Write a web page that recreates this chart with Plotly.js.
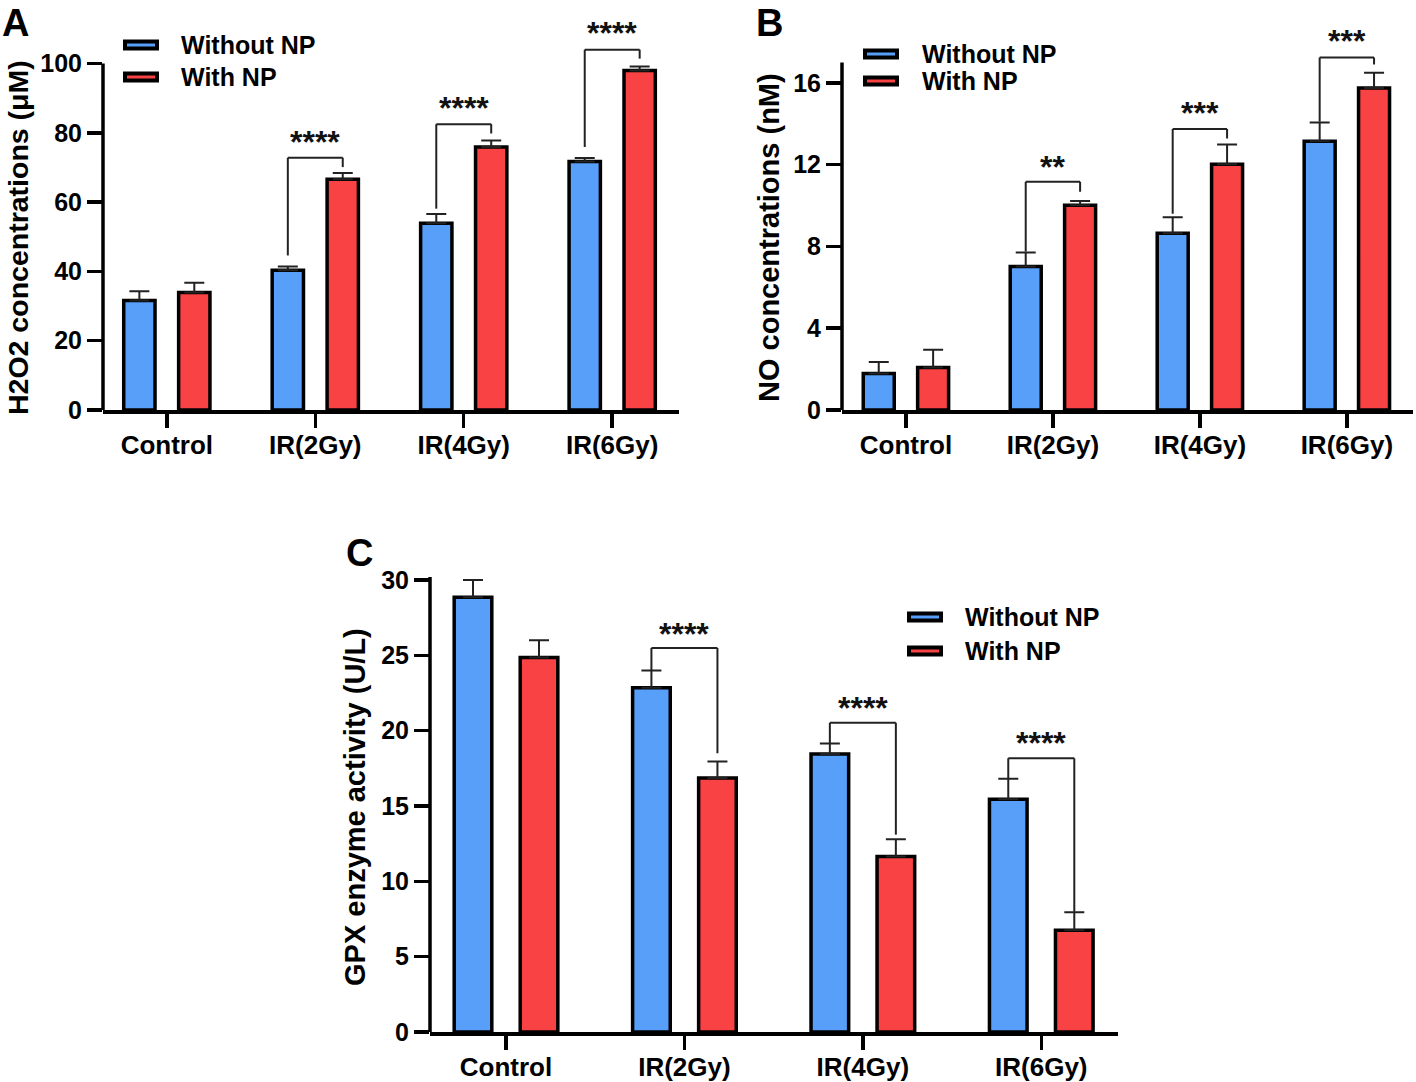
<!DOCTYPE html>
<html>
<head>
<meta charset="utf-8">
<script src="https://cdn.plot.ly/plotly-3.0.1.min.js"></script>
<style>
html, body { margin: 0; padding: 0; background: #ffffff; }
#chart { width: 1416px; height: 1082px; }
</style>
</head>
<body>
<div id="chart"></div>
<script>
// ---------------- DATA ----------------
const categories = ['Control', 'IR(2Gy)', 'IR(4Gy)', 'IR(6Gy)'];
const seriesNames = ['Without NP', 'With NP'];

// Panel A: H2O2 concentrations (uM)
const h2o2Without    = [31.6, 40.3, 53.9, 71.7];
const h2o2WithoutErr = [2.7, 1.1, 2.7, 1.0];
const h2o2With       = [33.9, 66.6, 75.9, 98.0];
const h2o2WithErr    = [2.8, 1.8, 1.9, 1.1];
const h2o2Ticks      = [0, 20, 40, 60, 80, 100];
// significance brackets (categories 1..3)
const h2o2SigLabels  = ['****', '****', '****'];
const h2o2SigTop     = [72.8, 82.5, 104.0];
const h2o2SigLeft    = [44.6, 58.1, 75.9];
const h2o2SigRight   = [70.1, 79.8, 101.4];
const h2o2SigText    = [78.6, 88.4, 110.0];

// Panel B: NO concentrations (nM)
const noWithout    = [1.78, 7.02, 8.65, 13.15];
const noWithoutErr = [0.57, 0.68, 0.78, 0.92];
const noWith       = [2.08, 10.02, 12.02, 15.75];
const noWithErr    = [0.87, 0.2, 0.97, 0.75];
const noTicks      = [0, 4, 8, 12, 16];
const noSigLabels  = ['**', '***', '***'];
const noSigTop     = [11.17, 13.75, 17.24];
const noSigLeft    = [7.75, 9.6, 14.1];
const noSigRight   = [10.68, 13.28, 16.9];
const noSigText    = [12.1, 14.75, 18.25];

// Panel C: GPX enzyme activity (U/L)
const gpxWithout    = [28.85, 22.85, 18.45, 15.45];
const gpxWithoutErr = [1.15, 1.15, 0.7, 1.35];
const gpxWith       = [24.85, 16.85, 11.65, 6.75];
const gpxWithErr    = [1.15, 1.1, 1.15, 1.2];
const gpxTicks      = [0, 5, 10, 15, 20, 25, 30];
const gpxSigLabels  = ['****', '****', '****'];
const gpxSigTop     = [25.48, 20.52, 18.17];
const gpxSigLeft    = [24.0, 19.17, 16.79];
const gpxSigRight   = [18.5, 13.1, 7.98];
const gpxSigText    = [26.7, 21.8, 19.45];

// ---------------- STYLE / LAYOUT HELPERS ----------------
const W = 1416, H = 1082;
const BLUE = '#579ff8';
const RED = '#f84244';
const FONT = 'Liberation Sans, Arial, Helvetica, sans-serif';
const BARGAP = 0.26, BARGROUPGAP = 0.43;
const LEG = (1 - BARGAP) / 4; // bar centre offset from category centre

// panel geometry in pixels
const panels = [
  {id: '',  xL: 103, xR: 679,  zeroPx: 410,  ppu: 3.465,  rmax: 114,  axisTop: 100,  xr: [-0.43, 3.45],
   title: 'H2O2 concentrations (μM)', tx: 18, ty: 238, tsize: 28.5,
   ticks: h2o2Ticks,
   w: h2o2Without, we: h2o2WithoutErr, r: h2o2With, re: h2o2WithErr,
   sl: h2o2SigLabels, st: h2o2SigTop, sL: h2o2SigLeft, sR: h2o2SigRight, sT: h2o2SigText},
  {id: '2', xL: 842, xR: 1413, zeroPx: 410,  ppu: 20.44,  rmax: 19.3, axisTop: 17.0, xr: [-0.435, 3.45],
   title: 'NO concentrations (nM)', tx: 769, ty: 238, tsize: 29,
   ticks: noTicks,
   w: noWithout, we: noWithoutErr, r: noWith, re: noWithErr,
   sl: noSigLabels, st: noSigTop, sL: noSigLeft, sR: noSigRight, sT: noSigText},
  {id: '3', xL: 430, xR: 1118, zeroPx: 1032, ppu: 15.067, rmax: 30.3, axisTop: 30.2, xr: [-0.426, 3.43],
   title: 'GPX enzyme activity (U/L)', tx: 355, ty: 807, tsize: 29,
   ticks: gpxTicks,
   w: gpxWithout, we: gpxWithoutErr, r: gpxWith, re: gpxWithErr,
   sl: gpxSigLabels, st: gpxSigTop, sL: gpxSigLeft, sR: gpxSigRight, sT: gpxSigText}
];

const traces = [];
const shapes = [];
const annotations = [];
const layout = {
  width: W, height: H,
  margin: {l: 0, r: 0, t: 0, b: 0, pad: 0},
  paper_bgcolor: '#ffffff', plot_bgcolor: 'rgba(0,0,0,0)',
  showlegend: false,
  barmode: 'group', bargap: BARGAP, bargroupgap: BARGROUPGAP,
  font: {family: FONT, color: '#000000'},
  shapes: shapes, annotations: annotations
};

panels.forEach(function (p) {
  const xa = 'x' + p.id, ya = 'y' + p.id;
  const topPx = p.zeroPx - p.rmax * p.ppu;
  const series = [[p.w, p.we, BLUE, seriesNames[0]], [p.r, p.re, RED, seriesNames[1]]];
  series.forEach(function (s) {
    traces.push({
      type: 'bar', x: categories, y: s[0], name: s[3],
      xaxis: xa, yaxis: ya,
      marker: {color: s[2], line: {color: '#000000', width: 3.5}},
      error_y: {type: 'data', array: s[1], arrayminus: s[1].map(function () { return 0; }),
                symmetric: false, color: '#222222', thickness: 2, width: 10},
      hoverinfo: 'skip'
    });
  });

  layout['xaxis' + p.id] = {
    domain: [p.xL / W, p.xR / W], anchor: ya, type: 'category', range: p.xr,
    showline: true, linewidth: 3.5, linecolor: '#000000',
    ticks: 'outside', ticklen: 14, tickwidth: 3.5, tickcolor: '#000000',
    ticklabelstandoff: -5,
    tickfont: {family: FONT, size: 26, color: '#000000', weight: 'bold'},
    showgrid: false, zeroline: false, fixedrange: true
  };
  layout['yaxis' + p.id] = {
    domain: [1 - p.zeroPx / H, 1 - topPx / H], anchor: xa, range: [0, p.rmax],
    showline: false, tickmode: 'array', tickvals: p.ticks,
    ticks: 'outside', ticklen: 15, tickwidth: 3.5, tickcolor: '#000000',
    tickfont: {family: FONT, size: 25, color: '#000000', weight: 'bold'},
    showgrid: false, zeroline: false, fixedrange: true
  };
  // y axis title (placed as rotated text at the reference position)
  annotations.push({xref: 'paper', yref: 'paper', x: p.tx / W, y: 1 - p.ty / H,
                    xanchor: 'center', yanchor: 'middle', textangle: -90, showarrow: false,
                    text: p.title, font: {family: FONT, size: p.tsize, color: '#000000', weight: 'bold'}});
  // visible y axis line, ending at the top tick like the original
  shapes.push({type: 'line', xref: xa + ' domain', yref: ya, x0: 0, x1: 0, y0: 0, y1: p.axisTop,
               line: {color: '#000000', width: 3.5}, layer: 'above'});

  // significance brackets
  p.sl.forEach(function (lab, k) {
    const i = k + 1;
    const lx = i - LEG, rx = i + LEG;
    const ln = {color: '#222222', width: 2};
    shapes.push({type: 'line', xref: xa, yref: ya, x0: lx, x1: lx, y0: p.sL[k], y1: p.st[k], line: ln});
    shapes.push({type: 'line', xref: xa, yref: ya, x0: lx, x1: rx, y0: p.st[k], y1: p.st[k], line: ln});
    shapes.push({type: 'line', xref: xa, yref: ya, x0: rx, x1: rx, y0: p.st[k], y1: p.sR[k], line: ln});
    annotations.push({xref: xa, yref: ya, x: i, y: p.sT[k], text: lab, showarrow: false,
                      xanchor: 'center', yanchor: 'middle', yshift: -4,
                      font: {family: FONT, size: 32, color: '#111111', weight: 'bold'}});
  });
});

// legends (drawn manually to match the wide outlined swatches)
const legends = [
  {sx: 141, y1: 45, y2: 77, tx: 179},
  {sx: 881, y1: 54, y2: 81, tx: 920},
  {sx: 925, y1: 617, y2: 651, tx: 963}
];
legends.forEach(function (L) {
  [[L.y1, BLUE, seriesNames[0]], [L.y2, RED, seriesNames[1]]].forEach(function (e) {
    shapes.push({type: 'rect', xref: 'paper', yref: 'paper',
                 x0: (L.sx - 16) / W, x1: (L.sx + 16) / W,
                 y0: 1 - (e[0] + 3.5) / H, y1: 1 - (e[0] - 3.5) / H,
                 fillcolor: e[1], line: {color: '#000000', width: 4}});
    annotations.push({xref: 'paper', yref: 'paper', x: L.tx / W, y: 1 - e[0] / H,
                      xanchor: 'left', yanchor: 'middle', showarrow: false, text: e[2],
                      font: {family: FONT, size: 25, color: '#000000', weight: 'bold'}});
  });
});

// panel letters
[['A', 0, 0], ['B', 754, 0], ['C', 344, 530]].forEach(function (t) {
  annotations.push({xref: 'paper', yref: 'paper', x: t[1] / W, y: 1 - t[2] / H,
                    xanchor: 'left', yanchor: 'top', showarrow: false, text: t[0],
                    font: {family: FONT, size: 38, color: '#000000', weight: 'bold'}});
});

Plotly.newPlot('chart', traces, layout, {displayModeBar: false, staticPlot: true});
</script>
</body>
</html>
